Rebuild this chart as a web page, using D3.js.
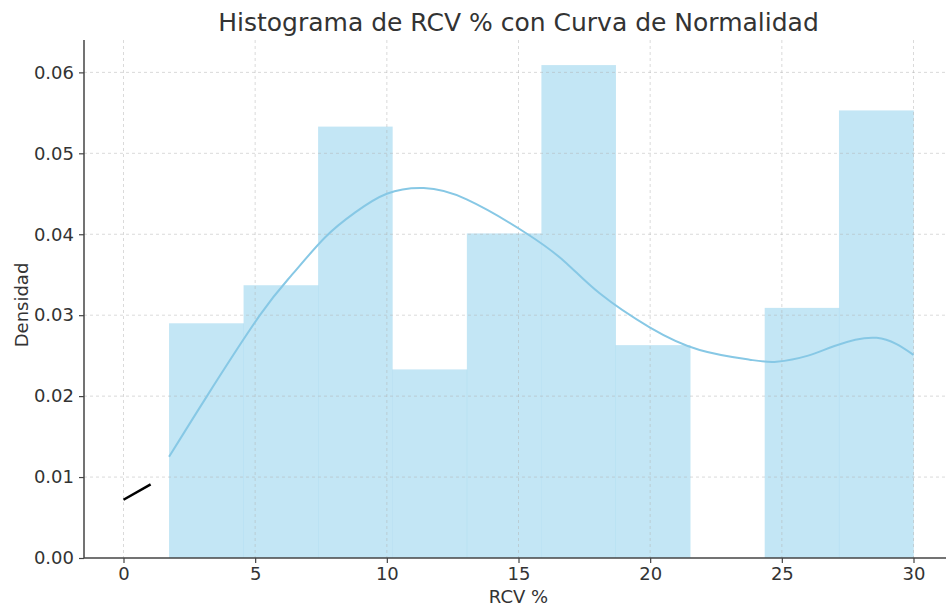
<!DOCTYPE html>
<html>
<head>
<meta charset="UTF-8">
<script src="https://d3js.org/d3.v7.min.js"></script>
<style>
  body { margin: 0; background: #fff; overflow: hidden; }
  svg { display: block; }
  .tick text { font-family: "DejaVu Sans", sans-serif; font-size: 18px; fill: #333; }
</style>
</head>
<body>
<svg id="chart" width="946" height="610"></svg>
<script>
// histogram bins (RCV %) and densities
const binEdges = [1.73, 4.56, 7.39, 10.21, 13.04, 15.87, 18.69, 21.52, 24.35, 27.17, 30.0];
const densities = [0.0290, 0.0337, 0.0533, 0.0233, 0.0401, 0.0609, 0.0263, 0.0, 0.0309, 0.0553];

// smooth density curve
const curveX = [1.73, 3.17, 5.18, 6.4, 7.65, 8.8, 10.0, 11.4, 13.03, 15.35, 16.83, 18.08, 19.98, 21.88, 23.78, 24.8, 26.0, 27.0, 28.6, 30.0];
const curveY = [0.0125, 0.0200, 0.0300, 0.0350, 0.0396, 0.0427, 0.0450, 0.0457, 0.0443, 0.0400, 0.0364, 0.0327, 0.0285, 0.0257, 0.0245, 0.02425, 0.0250, 0.0262, 0.0272, 0.0251];

// short black segment near the origin
const segX = [0, 1.03];
const segY = [0.0072, 0.0091];

const xTicks = [0, 5, 10, 15, 20, 25, 30];
const yTicks = [0, 0.01, 0.02, 0.03, 0.04, 0.05, 0.06];

const margin = { top: 40, left: 84 };
const plotW = 869, plotH = 518;

const svg = d3.select("#chart");
const g = svg.append("g").attr("transform", `translate(${margin.left},${margin.top})`);

const x = d3.scaleLinear().domain([-1.5, 31.5]).range([0, plotW]);
const y = d3.scaleLinear().domain([0, 0.064]).range([plotH, 0]);

// bars
const bins = densities.map((d, i) => ({ x0: binEdges[i], x1: binEdges[i + 1], v: d }));
g.append("g")
  .selectAll("rect")
  .data(bins.filter(b => b.v > 0))
  .join("rect")
  .attr("x", d => x(d.x0))
  .attr("width", d => x(d.x1) - x(d.x0) + 0.3)
  .attr("y", d => y(d.v))
  .attr("height", d => y(0) - y(d.v))
  .attr("fill", "#87ceeb")
  .attr("fill-opacity", 0.5);

// grid
const grid = g.append("g").attr("stroke", "#b0b0b0").attr("stroke-width", 0.8)
  .attr("stroke-dasharray", "3,3").attr("stroke-opacity", 0.6);
grid.selectAll(".gx").data(xTicks).join("line")
  .attr("x1", d => x(d)).attr("x2", d => x(d)).attr("y1", 0).attr("y2", plotH);
grid.selectAll(".gy").data(yTicks.slice(1)).join("line")
  .attr("y1", d => y(d)).attr("y2", d => y(d)).attr("x1", 0).attr("x2", plotW);

// density curve
const pts = curveX.map((v, i) => [v, curveY[i]]);
g.append("path")
  .datum(pts)
  .attr("fill", "none")
  .attr("stroke", "#87c8e5")
  .attr("stroke-width", 2)
  .attr("d", d3.line().x(d => x(d[0])).y(d => y(d[1])).curve(d3.curveNatural));

// black segment
g.append("path")
  .datum(segX.map((v, i) => [v, segY[i]]))
  .attr("fill", "none")
  .attr("stroke", "#000")
  .attr("stroke-width", 2.5)
  .attr("d", d3.line().x(d => x(d[0])).y(d => y(d[1])));

// axes
const xAxis = g.append("g").attr("transform", `translate(0,${plotH})`)
  .call(d3.axisBottom(x).tickValues(xTicks).tickSize(5).tickPadding(4).tickFormat(d3.format("d")));
const yAxis = g.append("g")
  .call(d3.axisLeft(y).tickValues(yTicks).tickSize(5).tickPadding(5).tickFormat(d3.format(".2f")));
[xAxis, yAxis].forEach(a => {
  a.select(".domain").attr("stroke", "#444").attr("stroke-width", 1.5);
  a.selectAll(".tick line").attr("stroke", "#444").attr("stroke-width", 1.2);
});
yAxis.select(".domain").attr("d", `M0,0V${plotH}`);
xAxis.select(".domain").attr("d", `M0,0H${plotW}`);

// title and labels
svg.append("text")
  .attr("x", margin.left + plotW / 2).attr("y", 31)
  .attr("text-anchor", "middle")
  .style("font-family", "DejaVu Sans, sans-serif").style("font-size", "25px").style("fill", "#333")
  .text("Histograma de RCV % con Curva de Normalidad");

svg.append("text")
  .attr("x", margin.left + plotW / 2).attr("y", 603)
  .attr("text-anchor", "middle")
  .style("font-family", "DejaVu Sans, sans-serif").style("font-size", "18px").style("fill", "#333")
  .text("RCV %");

svg.append("text")
  .attr("transform", `translate(28,305) rotate(-90)`)
  .attr("text-anchor", "middle")
  .style("font-family", "DejaVu Sans, sans-serif").style("font-size", "18px").style("fill", "#333")
  .text("Densidad");
</script>
</body>
</html>
